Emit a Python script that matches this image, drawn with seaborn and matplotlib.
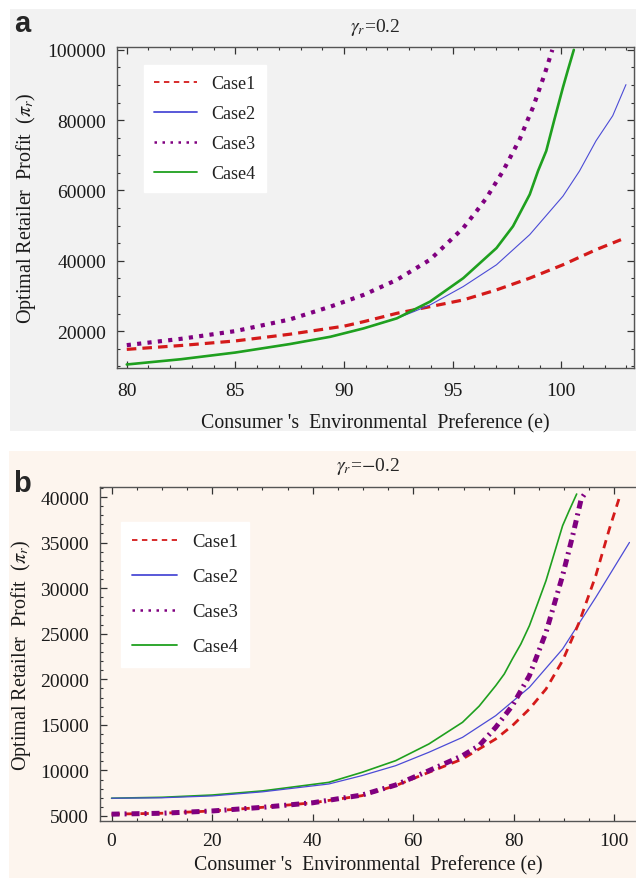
import matplotlib
matplotlib.use("Agg")
import matplotlib.pyplot as plt
import seaborn as sns
import pandas as pd
from matplotlib.lines import Line2D
from matplotlib.patches import Rectangle
from matplotlib.ticker import MultipleLocator

# ---------------- data ----------------
# Panel a  (gamma_r = 0.2)
a_case1_e = [80, 82.5, 85, 87.5, 90, 90.9, 92.43, 93.96, 95.49, 97.02, 98.55, 100.08, 101.6, 102.75]
a_case1_v = [14800, 15900, 17200, 19100, 21400, 22670, 25050, 26950, 28860, 31710, 35050, 38860, 43140, 46000]

a_case2_e = [80, 82.5, 85, 87.5, 89.37, 90.9, 92.43, 93.2, 93.96, 95.49, 97.02, 98.55, 100.08, 100.84, 101.6, 102.37, 102.98]
a_case2_v = [10500, 12000, 13900, 16300, 18380, 20760, 23620, 25500, 27430, 32670, 38860, 47430, 58380, 65520, 74100, 81240, 90100]

a_case3_e = [80, 82.5, 85, 87.5, 89.37, 90.9, 92.43, 93.96, 95.49, 96.1, 96.56, 97.32, 98.09, 98.47, 98.7, 99.24, 99.59]
a_case3_v = [16000, 17800, 20000, 23300, 26950, 30290, 34570, 40290, 49330, 54100, 57900, 65520, 74570, 80280, 83620, 93140, 100000]

a_case4_e = [80, 82.5, 85, 87.5, 89.37, 90.9, 92.43, 93.96, 95.49, 97.02, 97.78, 98.55, 98.93, 99.31, 99.69, 100.08, 100.3, 100.58]
a_case4_v = [10500, 12000, 13900, 16300, 18380, 20760, 23620, 28380, 35050, 43620, 49810, 58860, 65520, 71240, 80280, 89330, 94100, 100000]

# Panel b  (gamma_r = -0.2)
b_case1_e = [0, 10, 20, 30, 40, 49.8, 56.5, 63.1, 69.8, 76.4, 79.7, 83.1, 86.4, 89.7, 93.0, 96.3, 99.0, 100.9]
b_case1_v = [5200, 5300, 5550, 5950, 6450, 7230, 8330, 9790, 11250, 13450, 14910, 16740, 18930, 22040, 26250, 31370, 36490, 39780]

b_case2_e = [0, 10, 20, 30, 43.2, 49.8, 56.5, 63.1, 69.8, 76.4, 83.1, 89.7, 96.3, 103.0]
b_case2_v = [6950, 7000, 7200, 7650, 8510, 9430, 10520, 11990, 13630, 16010, 19120, 23320, 28990, 35020]

b_case3_e = [0, 10, 20, 30, 40, 49.8, 56.5, 63.1, 69.8, 73.1, 76.4, 79.7, 83.1, 86.4, 89.7, 91.7, 93.4, 94.4]
b_case3_v = [5200, 5300, 5550, 5950, 6450, 7300, 8400, 9970, 11620, 12720, 14730, 17100, 20400, 25150, 31370, 35750, 39780, 40600]

b_case4_e = [0, 10, 20, 30, 43.2, 49.8, 56.5, 63.1, 69.8, 73.1, 76.4, 78.1, 79.7, 81.4, 83.1, 84.7, 86.4, 88.0, 89.7, 91.0, 92.5]
b_case4_v = [6950, 7050, 7300, 7750, 8690, 9790, 11070, 12900, 15280, 17050, 19300, 20580, 22220, 23870, 25880, 28260, 30820, 33740, 36850, 38500, 40330]

case_names = ["Case1", "Case2", "Case3", "Case4"]
a_xticks = [80, 85, 90, 95, 100]
a_yticks = [20000, 40000, 60000, 80000, 100000]
b_xticks = [0, 20, 40, 60, 80, 100]
b_yticks = [5000, 10000, 15000, 20000, 25000, 30000, 35000, 40000]

# ---------------- style ----------------
sns.set_theme(style="ticks")
plt.rcParams["font.family"] = ["Liberation Serif", "DejaVu Serif"]
plt.rcParams["mathtext.fontset"] = "stix"

RED = "#d41a1a"
BLUE = "#4b4bd6"
PURPLE = "#800080"
GREEN = "#1fa01f"
BG_A = "#f2f2f2"
BG_B = "#fdf5ee"
SPINE = "#555555"

W, H = 636, 879
fig = plt.figure(figsize=(W / 100, H / 100), dpi=100)
fig.patch.set_facecolor("white")


def fbox(l, t, r, b):
    return [l / W, 1 - b / H, (r - l) / W, (b - t) / H]


fig.patches.append(Rectangle((10 / W, 1 - 432 / H), 626 / W, 422 / H, transform=fig.transFigure,
                             facecolor=BG_A, edgecolor="none", zorder=-10))
fig.patches.append(Rectangle((9 / W, 0), 627 / W, (H - 452) / H, transform=fig.transFigure,
                             facecolor=BG_B, edgecolor="none", zorder=-10))

axA = fig.add_axes(fbox(117, 48, 634, 369))
axB = fig.add_axes(fbox(100, 488, 636, 822))


def draw(ax, e, v, **kw):
    df = pd.DataFrame({"e": e, "v": v})
    sns.lineplot(data=df, x="e", y="v", ax=ax, estimator=None, sort=False, legend=False, **kw)


# Panel a lines
draw(axA, a_case1_e, a_case1_v, color=RED, lw=2.3, linestyle=(0, (3.0, 1.9)))
draw(axA, a_case2_e, a_case2_v, color=BLUE, lw=0.8)
draw(axA, a_case4_e, a_case4_v, color=GREEN, lw=1.9)
draw(axA, a_case3_e, a_case3_v, color=PURPLE, lw=3.0, linestyle=(0, (1.0, 1.5)))

# Panel b lines
draw(axB, b_case4_e, b_case4_v, color=GREEN, lw=1.2)
draw(axB, b_case2_e, b_case2_v, color=BLUE, lw=0.9)
draw(axB, b_case1_e, b_case1_v, color=RED, lw=2.0, linestyle=(0, (3.0, 2.2)))
draw(axB, b_case3_e, b_case3_v, color=PURPLE, lw=3.6, linestyle=(0, (1.6, 1.0, 0.4, 1.0)))

for ax, bg in ((axA, BG_A), (axB, BG_B)):
    ax.set_facecolor(bg)
    for s in ax.spines.values():
        s.set_color(SPINE)
        s.set_linewidth(1.0)
    ax.tick_params(which="both", direction="in", colors="#333333", labelsize=14,
                   labelcolor="#1a1a1a", top=True)
    ax.tick_params(which="major", length=5, width=0.9)
    ax.tick_params(which="minor", length=2.5, width=0.8)
    ax.set_xlabel("Consumer 's  Environmental  Preference (e)", fontsize=14.3, color="#1a1a1a")
    ax.set_ylabel(r"Optimal Retailer  Profit  ($\pi_r$)", fontsize=14.5, color="#1a1a1a")

# Panel a axes
axA.set_xlim(79.55, 103.35)
axA.set_ylim(9500, 100800)
axA.set_xticks(a_xticks)
axA.set_yticks(a_yticks)
axA.xaxis.set_minor_locator(MultipleLocator(1))
axA.yaxis.set_minor_locator(MultipleLocator(5000))
axA.tick_params(which="both", right=True)
axA.tick_params(axis="y", pad=8)
axA.tick_params(axis="x", pad=10)
axA.xaxis.labelpad = 10
axA.yaxis.labelpad = 7

# Panel b axes
axB.set_xlim(-2.3, 104.3)
axB.set_ylim(4450, 41100)
axB.set_xticks(b_xticks)
axB.set_yticks(b_yticks)
axB.xaxis.set_minor_locator(MultipleLocator(5))
axB.yaxis.set_minor_locator(MultipleLocator(1000))
axB.spines["right"].set_visible(False)
axB.tick_params(which="both", right=False)
axB.tick_params(axis="y", pad=8)
axB.tick_params(axis="x", pad=8)
axB.xaxis.labelpad = 4
axB.yaxis.labelpad = 5

# Titles and panel letters
fig.text(375 / W, 1 - 28 / H, r"$\gamma_r$=0.2", ha="center", va="center", fontsize=14)
fig.text(368 / W, 1 - 467 / H, r"$\gamma_r$=$-$0.2", ha="center", va="center", fontsize=14)
fig.text(22 / W, 1 - 24 / H, "a", ha="center", va="center", fontsize=21, fontweight="bold",
         family=["Liberation Sans", "DejaVu Sans"])
fig.text(22 / W, 1 - 484 / H, "b", ha="center", va="center", fontsize=21, fontweight="bold",
         family=["Liberation Sans", "DejaVu Sans"])

# Legends
def make_handles():
    return [
        Line2D([], [], color=RED, lw=1.3, linestyle=(0, (3, 2.5))),
        Line2D([], [], color=BLUE, lw=1.3),
        Line2D([], [], color=PURPLE, lw=1.8, linestyle=(0, (1, 2.2))),
        Line2D([], [], color=GREEN, lw=1.3),
    ]


legA = axA.legend(make_handles(), case_names, loc="upper left", bbox_to_anchor=(0.052, 0.943),
                  borderaxespad=0, frameon=True, fancybox=False, framealpha=1, facecolor="white",
                  edgecolor="white", fontsize=13, handlelength=2.4, handletextpad=0.8,
                  labelspacing=0.72, borderpad=0.55)
legB = axB.legend(make_handles(), case_names, loc="upper left", bbox_to_anchor=(0.039, 0.895),
                  borderaxespad=0, frameon=True, fancybox=False, framealpha=1, facecolor="white",
                  edgecolor="white", fontsize=13.5, handlelength=2.4, handletextpad=0.8,
                  labelspacing=0.95, borderpad=0.6)
for leg in (legA, legB):
    for t in leg.get_texts():
        t.set_color("#222222")

fig.savefig("out.png", dpi=100)
